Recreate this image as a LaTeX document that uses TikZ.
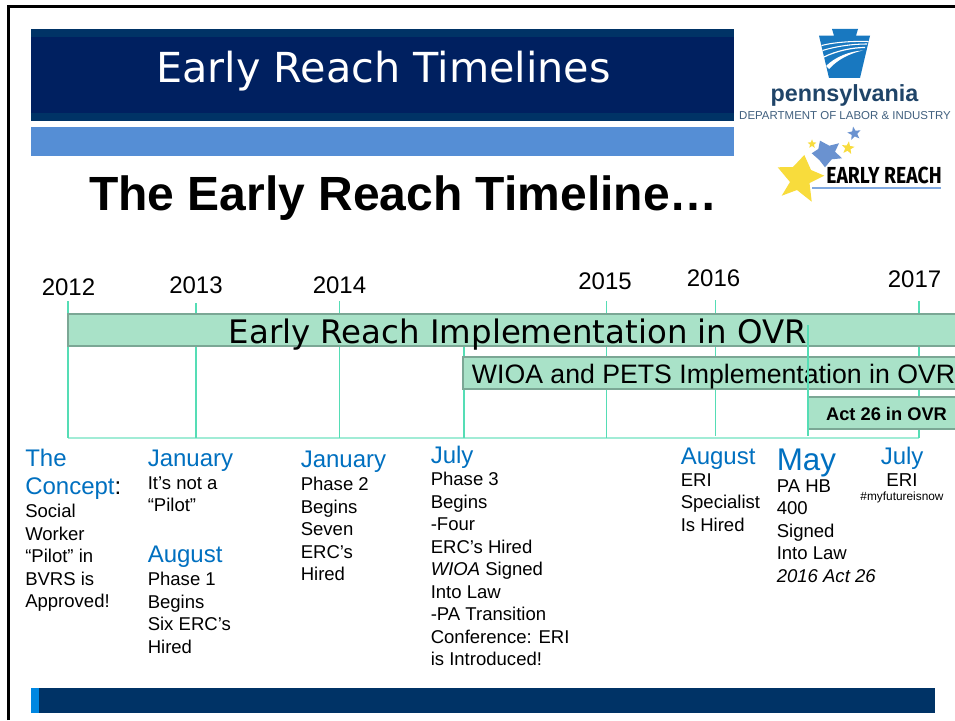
\documentclass[tikz,border=0pt]{standalone}
\usepackage{fontspec}
\usepackage{graphicx}
\setmainfont{Liberation Sans}
\newfontfamily\verd{DejaVu Sans}
\newfontfamily\fira{Fira Sans}
\usetikzlibrary{shapes.geometric}
\definecolor{navy}{HTML}{002060}
\definecolor{stripe}{HTML}{003366}
\definecolor{ltblue}{HTML}{558ED5}
\definecolor{barfill}{HTML}{A9E2C8}
\definecolor{barline}{HTML}{7BA795}
\definecolor{tick}{HTML}{55DDB5}
\definecolor{headblue}{HTML}{0070C0}
\definecolor{keyblue}{HTML}{1878C0}
\definecolor{penn}{HTML}{1F4468}
\definecolor{sgold}{HTML}{F8DC3C}
\definecolor{sblue}{HTML}{6A92D0}
\definecolor{ruleblue}{HTML}{7FA8E0}
\newcommand{\hd}[1]{{\fontsize{18}{21}\selectfont\color{headblue}#1}}
\tikzset{
  x=0.75pt,y=-0.75pt,
  block/.style={draw=none,inner sep=0pt,outer sep=0pt},
  ticker/.style={draw=tick,line width=0.8pt},
  barframe/.style={barline,line width=1.5pt},
  year/.style={font=\fontsize{18}{20}\selectfont,inner sep=0pt},
  body/.style={anchor=north west,inner sep=0pt,align=left,font=\fontsize{13.9}{16.9}\selectfont},
  head/.style={anchor=west,inner sep=0pt,text height=13pt,text depth=4pt,yshift=-2pt,font=\fontsize{18}{21}\selectfont,text=headblue},
  starnode/.style={star,star points=5,star point ratio=2.35,inner sep=0pt,draw=none},
}
\begin{document}
\begin{tikzpicture}
\useasboundingbox (0,0) rectangle (955,720);
\fill[white] (0,0) rectangle (955,720);
% slide frame
\draw[black,line width=2.3pt] (8.5,720) -- (8.5,6.5) -- (955,6.5);
% title band
\fill[stripe] (31,29) rectangle (734,121);
\fill[navy] (31,37) rectangle (734,113);
\fill[ltblue] (31,127) rectangle (734,156);
\node[block,text=white,font=\verd\fontsize{31}{34}\selectfont] (title) at (383.5,71) {Early Reach Timelines};
\node[block,font=\fontsize{36}{40}\bfseries\selectfont] (heading) at (403.5,198) {The Early Reach Timeline…};
% bottom band
\fill[stripe] (31,688) rectangle (935,713);
\fill[headblue!60!cyan!80!blue] (31,688) rectangle (39,713);
% keystone logo
\fill[keyblue] (832,29) -- (858,29) -- (856,35.7) -- (870,35.7) -- (860,78) -- (829,78) -- (819,35.7) -- (834,35.7) -- cycle;
\draw[white,line width=0.8pt] (821.5,45.5) .. controls (835,42) and (855,41) .. (868.5,41.5);
\draw[white,line width=0.8pt] (822.5,50.5) .. controls (837,46) and (853,44) .. (867,44);
\draw[white,line width=0.9pt] (824,57) .. controls (836,51) and (852,47.5) .. (865,47.5);
\fill[white] (826,66) .. controls (835,57) and (850,51) .. (863,50.5) .. controls (851,53) and (838,59) .. (829,69) -- cycle;
\node[block,text=penn,font=\fontsize{17.5}{20}\bfseries\selectfont] (pa) at (844.5,95) {pennsylvania};
\node[block,text=penn!85,font=\fontsize{8.6}{10}\selectfont] (dept) at (845,116) {DEPARTMENT OF LABOR \& INDUSTRY};
% early reach logo
\fill[sgold] (804.3,155) -- (811,170) -- (824.3,175.7) -- (809.5,183) -- (811.7,201.7) -- (797,190) -- (781.7,195.7) -- (790,182) -- (777.7,167.3) -- (793,167) -- cycle;
\fill[sblue] (811.7,153.3) -- (818.3,149) -- (820,140.7) -- (829.3,145.7) -- (839,143.3) -- (835,151.7) -- (842,158.3) -- (831.7,159.3) -- (825,167.3) -- (819.3,160) -- cycle;
\node[starnode,fill=sblue,minimum size=10.5pt,rotate=10] (s3) at (854.3,133.5) {};
\node[starnode,fill=sgold,minimum size=7pt] (s4) at (812,144) {};
\node[starnode,fill=sgold,minimum size=10pt,rotate=-8] (s5) at (848,148) {};
\node[block,font=\fira\fontsize{17.4}{20}\bfseries\selectfont] (er) at (884,175.5) {\scalebox{0.835}[1]{EARLY REACH}};
\coordinate (ula) at (812,188);
\coordinate (ulb) at (941,188);
\draw[draw=ruleblue,line width=1pt] (ula) -- (ulb);
% timeline
\coordinate (t12) at (68,301); \coordinate (b12) at (68,438);
\coordinate (t13) at (196,303); \coordinate (b13) at (196,438);
\coordinate (t14) at (339.5,301); \coordinate (b14) at (339.5,438);
\coordinate (t14b) at (464,347); \coordinate (b14b) at (464,438);
\coordinate (t15) at (606.6,301); \coordinate (b15) at (606.6,438);
\coordinate (t16) at (715.5,300); \coordinate (b16) at (715.5,436);
\coordinate (t16b) at (808,325); \coordinate (b16b) at (808,436);
\coordinate (t17) at (919,301); \coordinate (b17) at (919,438);
\draw[tick!55,line width=1.3pt] (b12) -- (b17);
\foreach \n in {12,13,14,14b,15,16,17} {\draw[ticker] (t\n) -- (b\n);}
\node[year] (y12) at (68.5,287) {2012};
\node[year] (y13) at (196,285.5) {2013};
\node[year] (y14) at (339.5,285.5) {2014};
\node[year] (y15) at (605,281) {2015};
\node[year] (y16) at (713.5,278) {2016};
\node[year] (y17) at (914.5,279) {2017};
% bars
\fill[barfill] (68,314) rectangle (960,346);
\draw[barframe] (960,314) -- (68,314) -- (68,346) -- (960,346);
\fill[barfill] (463,357) rectangle (960,389);
\draw[barframe] (960,357) -- (463,357) -- (463,389) -- (960,389);
\fill[barfill] (808,397) rectangle (960,429);
\draw[barframe] (960,397) -- (808,397) -- (808,429) -- (960,429);
\node[block,font=\verd\fontsize{24.3}{28}\selectfont] (erbar) at (518,334.5) {Early Reach Implementation in OVR};
\node[block,font=\fontsize{20}{24}\selectfont] (wioa) at (713.5,377) {WIOA and PETS Implementation in OVR};
\node[block,font=\fontsize{13.7}{16}\bfseries\selectfont] (act) at (886.5,414) {Act 26 in OVR};
\draw[ticker] (t16b) -- (b16b);
% column 1
\node[head] (c1a) at (25,458) {The};
\node[head,text=black] (c1b) at (25,486) {\hd{Concept}:};
\node[body] (c1c) at (25,504) {Social\\Worker\\“Pilot” in\\BVRS is\\Approved!};
% column 2
\node[head] (c2a) at (147.5,458) {January};
\node[body] (c2b) at (147.5,476) {It’s not a\\“Pilot”};
\node[head] (c2c) at (147.5,554) {August};
\node[body] (c2d) at (147.5,572) {Phase 1\\Begins\\Six ERC’s\\Hired};
% column 3
\node[head] (c3a) at (300.5,459) {January};
\node[body] (c3b) at (300.5,477) {Phase 2\\Begins\\Seven\\ERC’s\\Hired};
% column 4
\node[head] (c4a) at (430.5,455) {July};
\node[body] (c4b) at (430.5,472) {Phase 3\\Begins\\-Four\\ERC’s Hired\\\textit{WIOA} Signed\\Into Law\\-PA Transition\\Conference: ERI\\is Introduced!};
% column 5
\node[head] (c5a) at (680.5,456) {August};
\node[body] (c5b) at (680.5,473) {ERI\\Specialist\\Is Hired};
% column 6
\node[head,font=\fontsize{23.5}{26}\selectfont] (c6a) at (776.5,461.5) {May};
\node[body] (c6b) at (776.5,479) {PA HB\\400\\Signed\\Into Law\\\textit{2016 Act 26}};
% column 7
\node[head] (c7a) at (880.5,456) {July};
\node[block,font=\fontsize{14}{16}\selectfont] (c7b) at (902,480) {ERI};
\node[block,font=\fontsize{8.9}{10}\selectfont] (c7c) at (902,497.5) {\#myfutureisnow};
\end{tikzpicture}
\end{document}
